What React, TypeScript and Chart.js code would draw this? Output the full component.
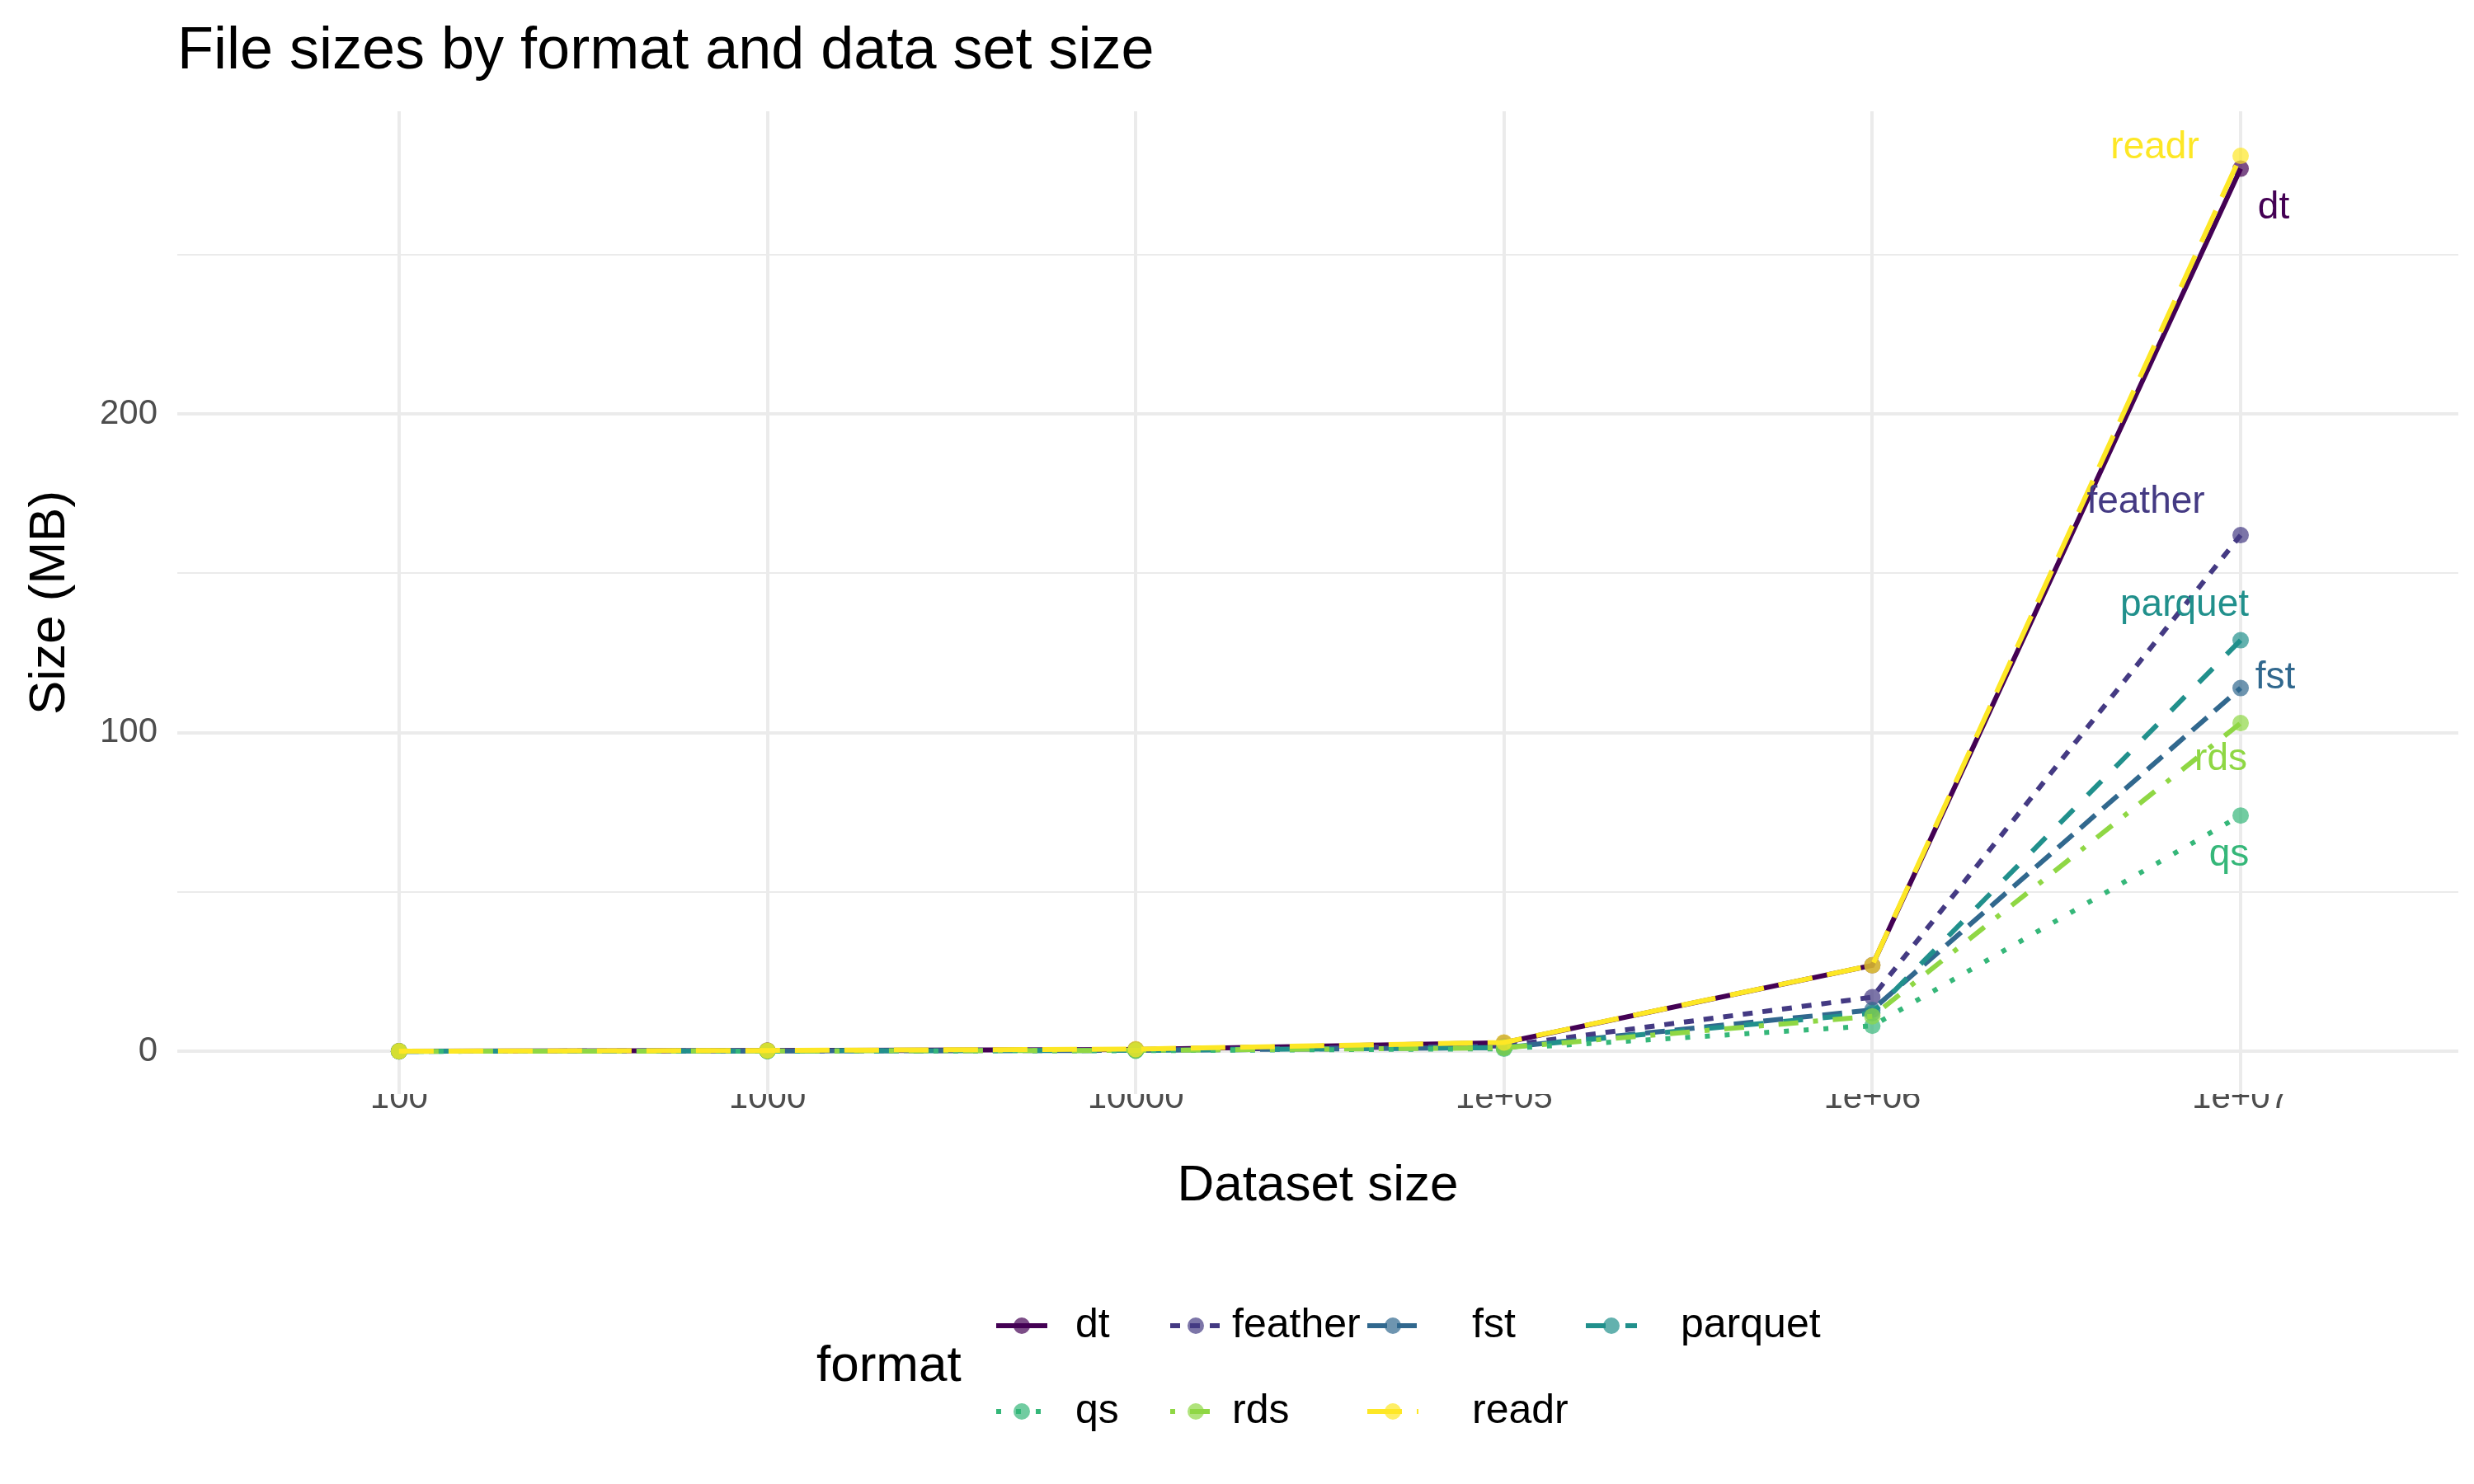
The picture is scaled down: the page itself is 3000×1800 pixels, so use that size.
import React, { useEffect, useRef } from 'react';
import { Chart, registerables } from 'chart.js';

Chart.register(...registerables);

const datasetSizes = [100, 1000, 10000, 100000, 1000000, 10000000];
const xTickLabels = ['100', '1000', '10000', '1e+05', '1e+06', '1e+07'];
const yTicks = [0, 50, 100, 150, 200, 250];

const formats = ['dt', 'feather', 'fst', 'parquet', 'qs', 'rds', 'readr'];
const dtSizes = [0.03, 0.27, 0.6, 2.7, 27, 277];
const featherSizes = [0.02, 0.17, 0.4, 1.7, 17, 162];
const fstSizes = [0.01, 0.12, 0.3, 1.2, 13, 114];
const parquetSizes = [0.01, 0.12, 0.3, 1.2, 12, 129];
const qsSizes = [0.01, 0.08, 0.2, 0.8, 8, 74];
const rdsSizes = [0.01, 0.11, 0.3, 1.1, 11, 103];
const readrSizes = [0.03, 0.28, 0.7, 2.8, 27, 281];

const allSizes = [dtSizes, featherSizes, fstSizes, parquetSizes, qsSizes, rdsSizes, readrSizes];
const colors = ['#440154', '#443A83', '#31688E', '#21908C', '#35B779', '#8FD744', '#FDE725'];
const dashes = [[], [12, 12], [24, 12], [24, 24], [6, 18], [6, 18, 24, 18], [42, 18]];
// label offsets from the last point (px)
const labelOffsets = [[40, 48], [-115, -40], [42, -12], [-68, -42], [-14, 48], [-24, 44], [-104, -10]];

const FONT = '"Liberation Sans", Arial, sans-serif';

const extras = {
  id: 'extras',
  afterDatasetsDraw(chart: any) {
    const ctx = chart.ctx;
    const x = chart.scales.x;
    const y = chart.scales.y;
    ctx.save();
    ctx.textBaseline = 'middle';
    ctx.textAlign = 'center';
    ctx.font = `46px ${FONT}`;
    formats.forEach((f, i) => {
      const px = x.getPixelForValue(datasetSizes[5]) + labelOffsets[i][0];
      const py = y.getPixelForValue(allSizes[i][5]) + labelOffsets[i][1];
      ctx.fillStyle = colors[i];
      ctx.fillText(f, px, py);
    });
    // title
    ctx.textAlign = 'left';
    ctx.fillStyle = '#000';
    ctx.font = `72px ${FONT}`;
    ctx.fillText('File sizes by format and data set size', 215, 63);
    // legend
    ctx.font = `62px ${FONT}`;
    ctx.fillText('format', 990, 1658);
    const keyX = [1208, 1419, 1658, 1923];
    const textX = [1304, 1494, 1785, 2038];
    const rowY = [1608, 1712];
    ctx.font = `50px ${FONT}`;
    formats.forEach((f, i) => {
      const col = i % 4;
      const row = Math.floor(i / 4);
      const kx = keyX[col];
      const ky = rowY[row];
      ctx.strokeStyle = colors[i];
      ctx.lineWidth = 6;
      ctx.setLineDash(dashes[i]);
      ctx.beginPath();
      ctx.moveTo(kx, ky);
      ctx.lineTo(kx + 62, ky);
      ctx.stroke();
      ctx.setLineDash([]);
      ctx.globalAlpha = 0.7;
      ctx.fillStyle = colors[i];
      ctx.beginPath();
      ctx.arc(kx + 31, ky, 10, 0, Math.PI * 2);
      ctx.fill();
      ctx.globalAlpha = 1;
      ctx.fillStyle = '#000';
      ctx.fillText(f, textX[col], ky);
    });
    ctx.restore();
  },
};

const App = () => {
  const canvasRef = useRef<HTMLCanvasElement>(null);

  useEffect(() => {
    document.body.style.margin = '0';
    const chart = new Chart(canvasRef.current!, {
      type: 'line',
      data: {
        datasets: formats.map((f, i) => ({
          label: f,
          order: formats.length - 1 - i,
          data: datasetSizes.map((s, j) => ({ x: s, y: allSizes[i][j] })),
          borderColor: colors[i],
          backgroundColor: colors[i] + 'B3',
          pointBorderColor: colors[i] + 'B3',
          borderDash: dashes[i],
          borderWidth: 6,
          pointRadius: 10,
          pointBorderWidth: 0,
          tension: 0,
          fill: false,
        })),
      },
      options: {
        responsive: false,
        animation: false,
        devicePixelRatio: 1,
        layout: { padding: { left: 0, top: 135, right: 19, bottom: 320 } },
        plugins: { legend: { display: false }, tooltip: { enabled: false } },
        scales: {
          x: {
            type: 'logarithmic',
            min: 25,
            max: 3.9e7,
            afterBuildTicks: (s: any) => { s.ticks = datasetSizes.map((v) => ({ value: v })); },
            afterFit: (s: any) => { s.height = 153; },
            ticks: {
              autoSkip: false,
              maxRotation: 0,
              color: '#4D4D4D',
              font: { family: FONT, size: 42 },
              padding: -20,
              callback: (v: any) => xTickLabels[datasetSizes.indexOf(Number(v))] ?? '',
            },
            grid: { color: '#EBEBEB', lineWidth: 4, drawTicks: false },
            border: { display: false },
            title: { display: true, text: 'Dataset size', color: '#000', font: { family: FONT, size: 62 }, padding: { top: 0 } },
          },
          y: {
            min: -13.4,
            max: 295,
            afterBuildTicks: (s: any) => { s.ticks = yTicks.map((v) => ({ value: v })); },
            afterFit: (s: any) => { s.width = 215; },
            ticks: {
              color: '#4D4D4D',
              font: { family: FONT, size: 42 },
              padding: 24,
              callback: (v: any) => (Number(v) % 100 === 0 ? String(v) : ''),
            },
            grid: {
              color: '#EBEBEB',
              lineWidth: (c: any) => (c.tick && c.tick.value % 100 === 0 ? 4 : 2),
              drawTicks: false,
            },
            border: { display: false },
            title: { display: true, text: 'Size (MB)', color: '#000', font: { family: FONT, size: 62 }, padding: { top: 24, bottom: 0 } },
          },
        },
      },
      plugins: [extras],
    });
    return () => chart.destroy();
  }, []);

  return <canvas ref={canvasRef} width={3000} height={1800} style={{ display: 'block' }} />;
};

export default App;
